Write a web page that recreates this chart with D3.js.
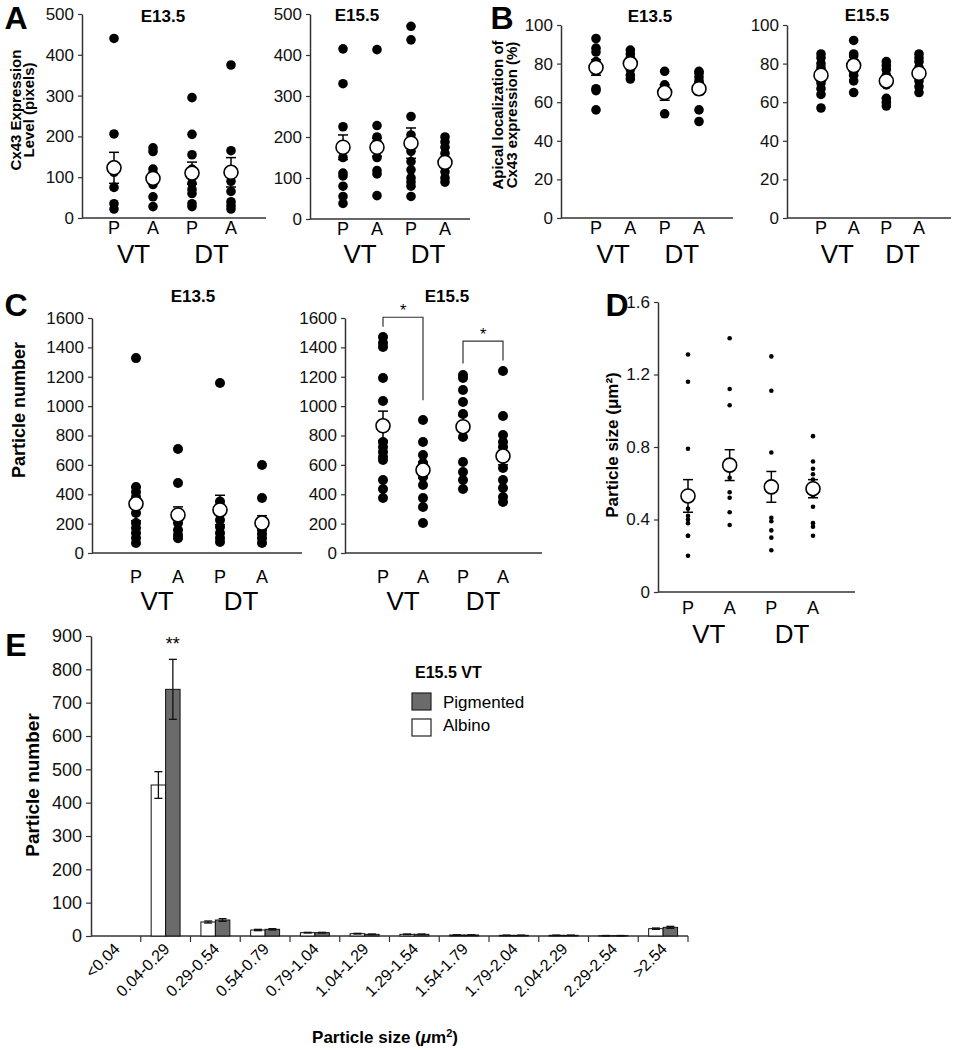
<!DOCTYPE html>
<html>
<head>
<meta charset="utf-8">
<script src="https://cdn.jsdelivr.net/npm/d3@7"></script>
<style>
  body { margin: 0; background: #fff; }
</style>
</head>
<body>
<script>
const font = "'Liberation Sans', Arial, Helvetica, sans-serif";
const groups = ["VT-P", "VT-A", "DT-P", "DT-A"];
const groupLabels = ["P", "A", "P", "A"];
const tissues = ["VT", "DT"];

// A: Cx43 expression level (pixels)
const a13Pts = [[440, 206, 130, 112, 75, 35, 22], [172, 163, 120, 110, 95, 82, 52, 28],
                [295, 205, 155, 120, 100, 85, 70, 60, 35, 28], [375, 165, 112, 90, 65, 40, 30, 22]];
const a13Mean = [123, 97, 110, 112];
const a13Err = [38, 12, 27, 36];
const a15Pts = [[415, 330, 225, 170, 150, 112, 105, 80, 55, 38], [413, 228, 200, 188, 150, 118, 110, 57],
                [470, 437, 250, 205, 190, 165, 140, 120, 100, 90, 80, 55], [200, 188, 175, 160, 145, 130, 115, 100, 90]];
const a15Mean = [175, 175, 185, 138];
const a15Err = [30, 22, 37, 12];

// B: apical localization (%)
const b13Pts = [[93, 88, 86, 81, 76, 67, 66, 56], [87, 85, 83, 80, 77, 74, 72],
                [76, 69, 67, 65, 54], [76, 75, 73, 71, 70, 66, 56, 50]];
const b13Mean = [78, 80, 65, 67];
const b13Err = [4, 2, 4, 3];
const b15Pts = [[85, 83, 80, 78, 73, 70, 67, 64, 57], [92, 85, 84, 79, 76, 74, 71, 65],
                [81, 79, 77, 74, 72, 69, 62, 60, 58], [85, 83, 81, 78, 77, 75, 71, 68, 65]];
const b15Mean = [74, 79, 71, 75];
const b15Err = [3, 3, 2.5, 2];

// C: particle number
const c13Pts = [[1327, 449, 415, 381, 272, 204, 170, 136, 102, 68], [708, 477, 204, 157, 123, 100],
                [1157, 350, 320, 225, 177, 136, 102, 75], [599, 374, 160, 130, 100, 68]];
const c13Mean = [335, 259, 293, 204];
const c13Err = [115, 55, 100, 50];
const c15Pts = [[1470, 1430, 1402, 1191, 1035, 756, 722, 688, 654, 633, 497, 436, 374],
                [905, 756, 667, 613, 517, 463, 374, 313, 204],
                [1212, 1191, 1110, 1028, 946, 790, 620, 551, 497, 436],
                [1239, 933, 803, 756, 722, 579, 497, 442, 381, 347]];
const c15Mean = [866, 565, 860, 660];
const c15Err = [100, 55, 75, 60];
const c15Brackets = [
  { from: "VT-P", to: "VT-A", top: 1605, left: 1540, right: 1040 },
  { from: "DT-P", to: "DT-A", top: 1443, left: 1290, right: 1310 }
];

// D: particle size (um2)
const dPts = [[1.31, 1.16, 0.79, 0.46, 0.42, 0.40, 0.38, 0.31, 0.31, 0.20],
              [1.40, 1.12, 1.03, 0.63, 0.55, 0.52, 0.44, 0.37],
              [1.30, 1.11, 0.77, 0.41, 0.39, 0.34, 0.30, 0.23],
              [0.86, 0.72, 0.68, 0.65, 0.62, 0.56, 0.53, 0.47, 0.38, 0.36, 0.31]];
const dMean = [0.53, 0.70, 0.58, 0.57];
const dErr = [0.09, 0.085, 0.085, 0.05];

// E: size distribution, E15.5 VT
const sizeBins = ["<0.04", "0.04-0.29", "0.29-0.54", "0.54-0.79", "0.79-1.04", "1.04-1.29",
                  "1.29-1.54", "1.54-1.79", "1.79-2.04", "2.04-2.29", "2.29-2.54", ">2.54"];
const albino = [0, 453, 42, 18, 10, 7, 5, 3, 2, 2, 1, 22];
const albinoErr = [0, 40, 3, 2, 1, 1, 1, 0.5, 0.5, 0.5, 0.5, 2];
const pigmented = [0, 740, 48, 20, 10, 5, 5, 3, 2, 2, 1, 26];
const pigmentedErr = [0, 90, 4, 2, 1, 1, 1, 0.5, 0.5, 0.5, 0.5, 3];

const svg = d3.select("body").append("svg").attr("width", 955).attr("height", 1050)
  .style("font-family", font);
svg.append("rect").attr("width", "100%").attr("height", "100%").attr("fill", "#fff");

function styleAxis(s, fs) {
  s.select(".domain").attr("stroke", "#333").attr("stroke-width", 1.5);
  s.selectAll(".tick line").attr("stroke", "#333").attr("stroke-width", 1.2);
  s.selectAll(".tick text").attr("font-size", fs).attr("font-family", font).attr("fill", "#111");
}

function scatterPanel(cfg) {
  const g = svg.append("g");
  const y = d3.scaleLinear().domain([0, cfg.max]).range([cfg.yBot, cfg.yTop]);
  const x = d3.scalePoint().domain(groups).range([cfg.x0 + cfg.dx[0], cfg.x0 + cfg.dx[1]]);

  g.append("g").attr("transform", `translate(${cfg.x0},0)`)
    .call(d3.axisLeft(y).tickValues(cfg.ticks).tickSize(4).tickSizeOuter(0).tickPadding(4)
      .tickFormat(cfg.fmt || d3.format("d")))
    .call(s => styleAxis(s, cfg.tickFs));

  g.append("line").attr("x1", cfg.x0).attr("x2", cfg.x1)
    .attr("y1", cfg.yBot).attr("y2", cfg.yBot)
    .attr("stroke", "#333").attr("stroke-width", 1.5);

  groups.forEach((k, i) => {
    g.append("g").selectAll("circle").data(cfg.pts[i]).join("circle")
      .attr("cx", x(k)).attr("cy", d => y(d)).attr("r", cfg.r).attr("fill", "#000");
  });

  // error bars
  const eb = g.append("g").attr("stroke", "#000").attr("stroke-width", 1.5);
  groups.forEach((k, i) => {
    const m = cfg.mean[i], e = cfg.err[i];
    eb.append("line").attr("x1", x(k)).attr("x2", x(k)).attr("y1", y(m - e)).attr("y2", y(m + e));
    [m - e, m + e].forEach(v => eb.append("line")
      .attr("x1", x(k) - 5).attr("x2", x(k) + 5).attr("y1", y(v)).attr("y2", y(v)));
  });

  g.append("g").selectAll("circle").data(cfg.mean).join("circle")
    .attr("cx", (d, i) => x(groups[i])).attr("cy", d => y(d)).attr("r", 7)
    .attr("fill", "#fff").attr("stroke", "#000").attr("stroke-width", 1.6);

  g.append("g").selectAll("text").data(groupLabels).join("text")
    .attr("x", (d, i) => x(groups[i])).attr("y", cfg.yBot + cfg.pY)
    .attr("text-anchor", "middle").attr("font-size", 18).text(d => d);

  g.append("g").selectAll("text").data(tissues).join("text")
    .attr("x", (d, i) => (x(groups[2 * i]) + x(groups[2 * i + 1])) / 2)
    .attr("y", cfg.yBot + cfg.tY)
    .attr("text-anchor", "middle").attr("font-size", 26).text(d => d);

  if (cfg.title) {
    g.append("text").attr("x", cfg.title[1]).attr("y", cfg.title[2])
      .attr("text-anchor", "middle").attr("font-size", 17).attr("font-weight", "bold")
      .text(cfg.title[0]);
  }

  if (cfg.brackets) {
    cfg.brackets.forEach(b => {
      const xl = x(b.from), xr = x(b.to);
      g.append("path")
        .attr("d", `M${xl},${y(b.left)}V${y(b.top)}H${xr}V${y(b.right)}`)
        .attr("fill", "none").attr("stroke", "#333").attr("stroke-width", 1.2);
      g.append("text").attr("x", (xl + xr) / 2).attr("y", y(b.top) - 1)
        .attr("text-anchor", "middle").attr("font-size", 16).text("*");
    });
  }
  return { x, y };
}

function yLabel(lines, cx, cy, fs, gap) {
  const t = svg.append("text").attr("transform", `translate(${cx},${cy}) rotate(-90)`)
    .attr("text-anchor", "middle").attr("font-weight", "bold").attr("font-size", fs);
  lines.forEach((l, i) => t.append("tspan").attr("x", 0).attr("dy", i === 0 ? 0 : gap).text(l));
  return t;
}

function panelLetter(l, x, y) {
  svg.append("text").attr("x", x).attr("y", y).attr("font-size", 32)
    .attr("font-weight", "bold").attr("text-anchor", "middle").text(l);
}

// Panel A
panelLetter("A", 16, 29);
yLabel(["Cx43 Expression", "Level (pixels)"], 21, 110, 15, 13);
scatterPanel({ x0: 82, x1: 266, yTop: 14, yBot: 218, max: 500, ticks: d3.range(0, 501, 100), tickFs: 17,
  dx: [32, 149], pts: a13Pts, mean: a13Mean, err: a13Err, r: 4.8, pY: 16, tY: 45, title: ["E13.5", 163, 22] });
scatterPanel({ x0: 310, x1: 470, yTop: 14, yBot: 219, max: 500, ticks: d3.range(0, 501, 100), tickFs: 17,
  dx: [33, 135], pts: a15Pts, mean: a15Mean, err: a15Err, r: 4.8, pY: 16, tY: 44, title: ["E15.5", 357, 21] });

// Panel B
panelLetter("B", 502, 29);
yLabel(["Apical localization of", "Cx43 expression (%)"], 503, 115, 15, 14);
scatterPanel({ x0: 561, x1: 733, yTop: 25, yBot: 218, max: 100, ticks: d3.range(0, 101, 20), tickFs: 17,
  dx: [35, 138], pts: b13Pts, mean: b13Mean, err: b13Err, r: 4.8, pY: 16, tY: 45, title: ["E13.5", 650, 22] });
scatterPanel({ x0: 787, x1: 951, yTop: 25, yBot: 218, max: 100, ticks: d3.range(0, 101, 20), tickFs: 17,
  dx: [34, 132], pts: b15Pts, mean: b15Mean, err: b15Err, r: 4.8, pY: 16, tY: 45, title: ["E15.5", 867, 21] });

// Panel C
panelLetter("C", 16, 316);
yLabel(["Particle number"], 25, 410, 18, 0);
scatterPanel({ x0: 92, x1: 302, yTop: 318, yBot: 553, max: 1600, ticks: d3.range(0, 1601, 200), tickFs: 17,
  dx: [44, 170], pts: c13Pts, mean: c13Mean, err: c13Err, r: 5, pY: 30, tY: 57, title: ["E13.5", 193, 302] });
scatterPanel({ x0: 345, x1: 542, yTop: 318, yBot: 553, max: 1600, ticks: d3.range(0, 1601, 200), tickFs: 17,
  dx: [38, 158], pts: c15Pts, mean: c15Mean, err: c15Err, r: 5, pY: 30, tY: 57, title: ["E15.5", 447, 302],
  brackets: c15Brackets });

// Panel D
panelLetter("D", 617, 316);
yLabel(["Particle size (μm²)"], 618, 445, 17, 0);
scatterPanel({ x0: 658, x1: 855, yTop: 302, yBot: 592, max: 1.6, ticks: [0, 0.4, 0.8, 1.2, 1.6], tickFs: 17,
  fmt: d => d === 0 ? "0" : d.toFixed(1),
  dx: [30, 155], pts: dPts, mean: dMean, err: dErr, r: 2.3, pY: 22, tY: 51 });

// Panel E
panelLetter("E", 16, 656);
yLabel(["Particle number"], 39, 785, 19, 0);
const eY = d3.scaleLinear().domain([0, 900]).range([936, 636]);
const eX = d3.scaleBand().domain(sizeBins).range([91, 688]);
const eInner = d3.scaleBand().domain(["Albino", "Pigmented"]).range([0, eX.bandwidth()]).paddingOuter(0.72);
const eg = svg.append("g");

eg.append("g").attr("transform", "translate(91,0)")
  .call(d3.axisLeft(eY).tickValues(d3.range(0, 901, 100)).tickSize(5).tickSizeOuter(0).tickPadding(4))
  .call(s => styleAxis(s, 18));

// x axis with boundary ticks
eg.append("line").attr("x1", 91).attr("x2", 688).attr("y1", 936).attr("y2", 936)
  .attr("stroke", "#333").attr("stroke-width", 1.5);
eg.append("g").selectAll("line").data(sizeBins.slice(1).concat(["end"])).join("line")
  .attr("x1", (d, i) => 91 + (i + 1) * eX.step()).attr("x2", (d, i) => 91 + (i + 1) * eX.step())
  .attr("y1", 936).attr("y2", 942).attr("stroke", "#333").attr("stroke-width", 1.2);

const series = [
  { key: "Albino", vals: albino, errs: albinoErr, fill: "#fff" },
  { key: "Pigmented", vals: pigmented, errs: pigmentedErr, fill: "#6b6b6b" }
];
series.forEach(s => {
  eg.append("g").selectAll("rect").data(s.vals).join("rect")
    .attr("x", (d, i) => eX(sizeBins[i]) + eInner(s.key))
    .attr("y", d => eY(d)).attr("width", eInner.bandwidth())
    .attr("height", d => 936 - eY(d))
    .attr("fill", s.fill).attr("stroke", "#111").attr("stroke-width", d => d > 0 ? 1 : 0);
  const eb = eg.append("g").attr("stroke", "#111").attr("stroke-width", 1.3);
  s.vals.forEach((v, i) => {
    if (v <= 0) return;
    const cx = eX(sizeBins[i]) + eInner(s.key) + eInner.bandwidth() / 2;
    const e = s.errs[i];
    eb.append("line").attr("x1", cx).attr("x2", cx).attr("y1", eY(v - e)).attr("y2", eY(v + e));
    [v - e, v + e].forEach(w => eb.append("line").attr("x1", cx - 4).attr("x2", cx + 4)
      .attr("y1", eY(w)).attr("y2", eY(w)));
  });
});

// significance
{
  const i = 1;
  const cx = eX(sizeBins[i]) + eInner("Pigmented") + eInner.bandwidth() / 2;
  eg.append("text").attr("x", cx).attr("y", eY(pigmented[i] + pigmentedErr[i]) - 9)
    .attr("text-anchor", "middle").attr("font-size", 18).text("**");
}

eg.append("g").selectAll("text").data(sizeBins).join("text")
  .attr("transform", d => `translate(${eX(d) + eX.bandwidth() / 2 + 5},${950}) rotate(-45)`)
  .attr("text-anchor", "end").attr("font-size", 16).text(d => d);

const xt = eg.append("text").attr("x", 385).attr("y", 1043).attr("text-anchor", "middle")
  .attr("font-size", 17).attr("font-weight", "bold");
xt.append("tspan").text("Particle size (");
xt.append("tspan").attr("font-style", "italic").text("μ");
xt.append("tspan").text("m");
xt.append("tspan").attr("font-size", 11).attr("dy", -6).text("2");
xt.append("tspan").attr("dy", 6).text(")");

// legend
const lg = svg.append("g").attr("transform", "translate(412,665)");
lg.append("text").attr("x", 3).attr("y", 13).attr("font-size", 16).attr("font-weight", "bold").text("E15.5 VT");
lg.selectAll("rect").data(series.slice().reverse()).join("rect")
  .attr("x", 0).attr("y", (d, i) => 28 + i * 26).attr("width", 19).attr("height", 17)
  .attr("fill", d => d.fill).attr("stroke", "#222").attr("stroke-width", 1.2);
lg.selectAll("text.lab").data(series.slice().reverse()).join("text").attr("class", "lab")
  .attr("x", 31).attr("y", (d, i) => 43 + i * 23).attr("font-size", 17).text(d => d.key);
</script>
</body>
</html>
